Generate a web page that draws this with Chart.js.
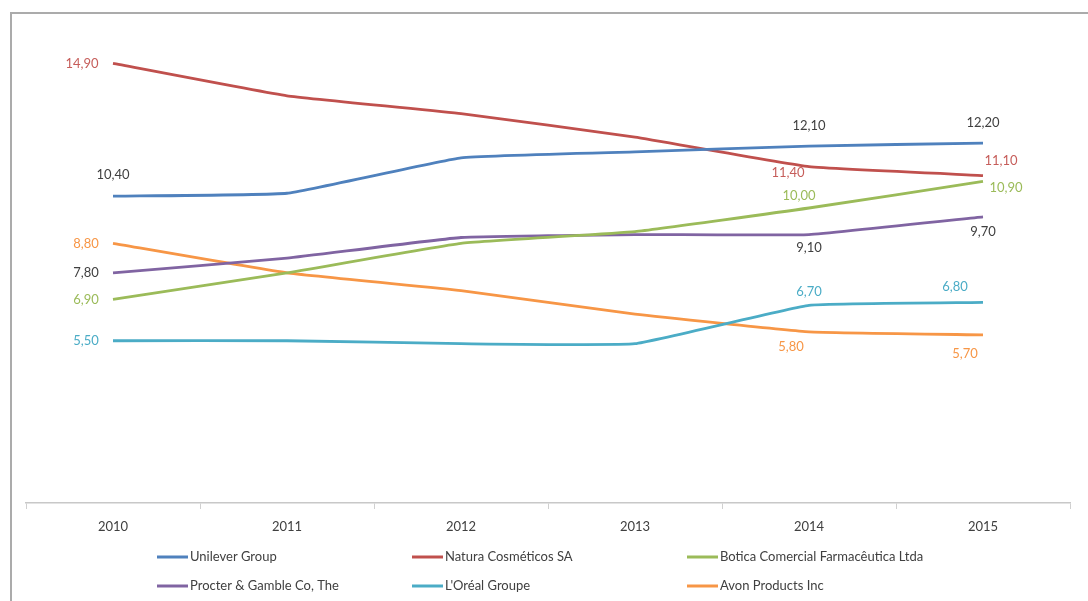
<!DOCTYPE html>
<html>
<head>
<meta charset="utf-8">
<script src="https://cdn.jsdelivr.net/npm/chart.js@4.4.1/dist/chart.umd.min.js"></script>
<style>
  html, body { margin: 0; padding: 0; background: #fff; }
  #wrap { position: relative; width: 1088px; height: 601px; }
  #frame { position: absolute; left: 10px; top: 12px; right: -4px; bottom: -4px;
           border-top: 2px solid #ababab; border-left: 2px solid #ababab; }
  #chart { position: absolute; left: 0; top: 0; }
</style>
</head>
<body>
<div id="wrap">
  <div id="frame"></div>
  <canvas id="chart" width="1088" height="601"></canvas>
</div>
<script>
// data
const years = ["2010", "2011", "2012", "2013", "2014", "2015"];
const seriesNames = ["Unilever Group", "Natura Cosméticos SA", "Botica Comercial Farmacêutica Ltda",
                     "Procter & Gamble Co, The", "L'Oréal Groupe", "Avon Products Inc"];
const unilever = [10.4, 10.5, 11.7, 11.9, 12.1, 12.2];
const natura   = [14.9, 13.8, 13.2, 12.4, 11.4, 11.1];
const botica   = [6.9, 7.8, 8.8, 9.2, 10.0, 10.9];
const procter  = [7.8, 8.3, 9.0, 9.1, 9.1, 9.7];
const loreal   = [5.5, 5.5, 5.4, 5.4, 6.7, 6.8];
const avon     = [8.8, 7.8, 7.2, 6.4, 5.8, 5.7];

const lineColors  = ["#4f81bd", "#c0504d", "#9bbb59", "#8064a2", "#4bacc6", "#f79646"];
const labelColors = ["#404040", "#c65d5a", "#9bbb59", "#404040", "#4bacc6", "#f79646"];

// which points carry a value label, and where it sits relative to the point
const labelOffsets = [
  { 0: [0, -21], 4: [0, -20], 5: [0, -20] },
  { 0: [-31, 0], 4: [-21, 6], 5: [18, -15] },
  { 0: [-27, 0], 4: [-10, -12], 5: [23, 6] },
  { 0: [-27, 0], 4: [0, 13], 5: [0, 15] },
  { 0: [-27, 0], 4: [0, -14], 5: [-28, -16] },
  { 0: [-27, 0], 4: [-18, 15], 5: [-18, 19] }
];

const FONT = "Lato, 'Open Sans', sans-serif";

const valueLabels = {
  id: "valueLabels",
  afterDatasetsDraw(chart) {
    const ctx = chart.ctx;
    ctx.save();
    ctx.font = "13px " + FONT;
    ctx.textAlign = "center";
    ctx.textBaseline = "middle";
    chart.data.datasets.forEach((ds, i) => {
      const meta = chart.getDatasetMeta(i);
      Object.keys(labelOffsets[i]).forEach(k => {
        const pt = meta.data[k];
        const off = labelOffsets[i][k];
        ctx.fillStyle = labelColors[i];
        ctx.fillText(ds.data[k].toFixed(2).replace(".", ","), pt.x + off[0], pt.y + off[1]);
      });
    });
    ctx.restore();
  }
};

// legend in a 3 x 2 grid like the original
const legendCols = [157, 412, 687];
const legendRows = [557, 586];
const gridLegend = {
  id: "gridLegend",
  afterDraw(chart) {
    const ctx = chart.ctx;
    ctx.save();
    ctx.font = "13px " + FONT;
    ctx.textBaseline = "middle";
    chart.data.datasets.forEach((ds, i) => {
      const x = legendCols[i % 3];
      const y = legendRows[Math.floor(i / 3)];
      ctx.strokeStyle = ds.borderColor;
      ctx.lineWidth = 3;
      ctx.beginPath();
      ctx.moveTo(x, y);
      ctx.lineTo(x + 31, y);
      ctx.stroke();
      ctx.fillStyle = "#404040";
      ctx.fillText(ds.label, x + 33, y);
    });
    ctx.restore();
  }
};

const seriesValues = [unilever, natura, botica, procter, loreal, avon];

new Chart(document.getElementById("chart"), {
  type: "line",
  data: {
    labels: years,
    datasets: seriesValues.map((vals, i) => ({
      label: seriesNames[i],
      data: vals,
      borderColor: lineColors[i],
      backgroundColor: lineColors[i],
      borderWidth: 2.8,
      pointRadius: 0,
      tension: 0.1,
      fill: false
    }))
  },
  options: {
    responsive: false,
    animation: false,
    layout: { padding: { left: 26, right: 18, top: 31, bottom: 0 } },
    plugins: {
      legend: { display: false },
      tooltip: { enabled: false }
    },
    scales: {
      x: {
        offset: true,
        afterFit: s => { s.height = 98; },
        grid: {
          offset: true,
          drawOnChartArea: false,
          tickLength: 6,
          color: "#d0d0d0"
        },
        border: { color: "#c8c8c8", width: 1.5 },
        ticks: { color: "#404040", font: { family: FONT, size: 13 }, padding: 10 }
      },
      y: { display: false, min: 0, max: 16 }
    }
  },
  plugins: [valueLabels, gridLegend]
});
</script>
</body>
</html>
